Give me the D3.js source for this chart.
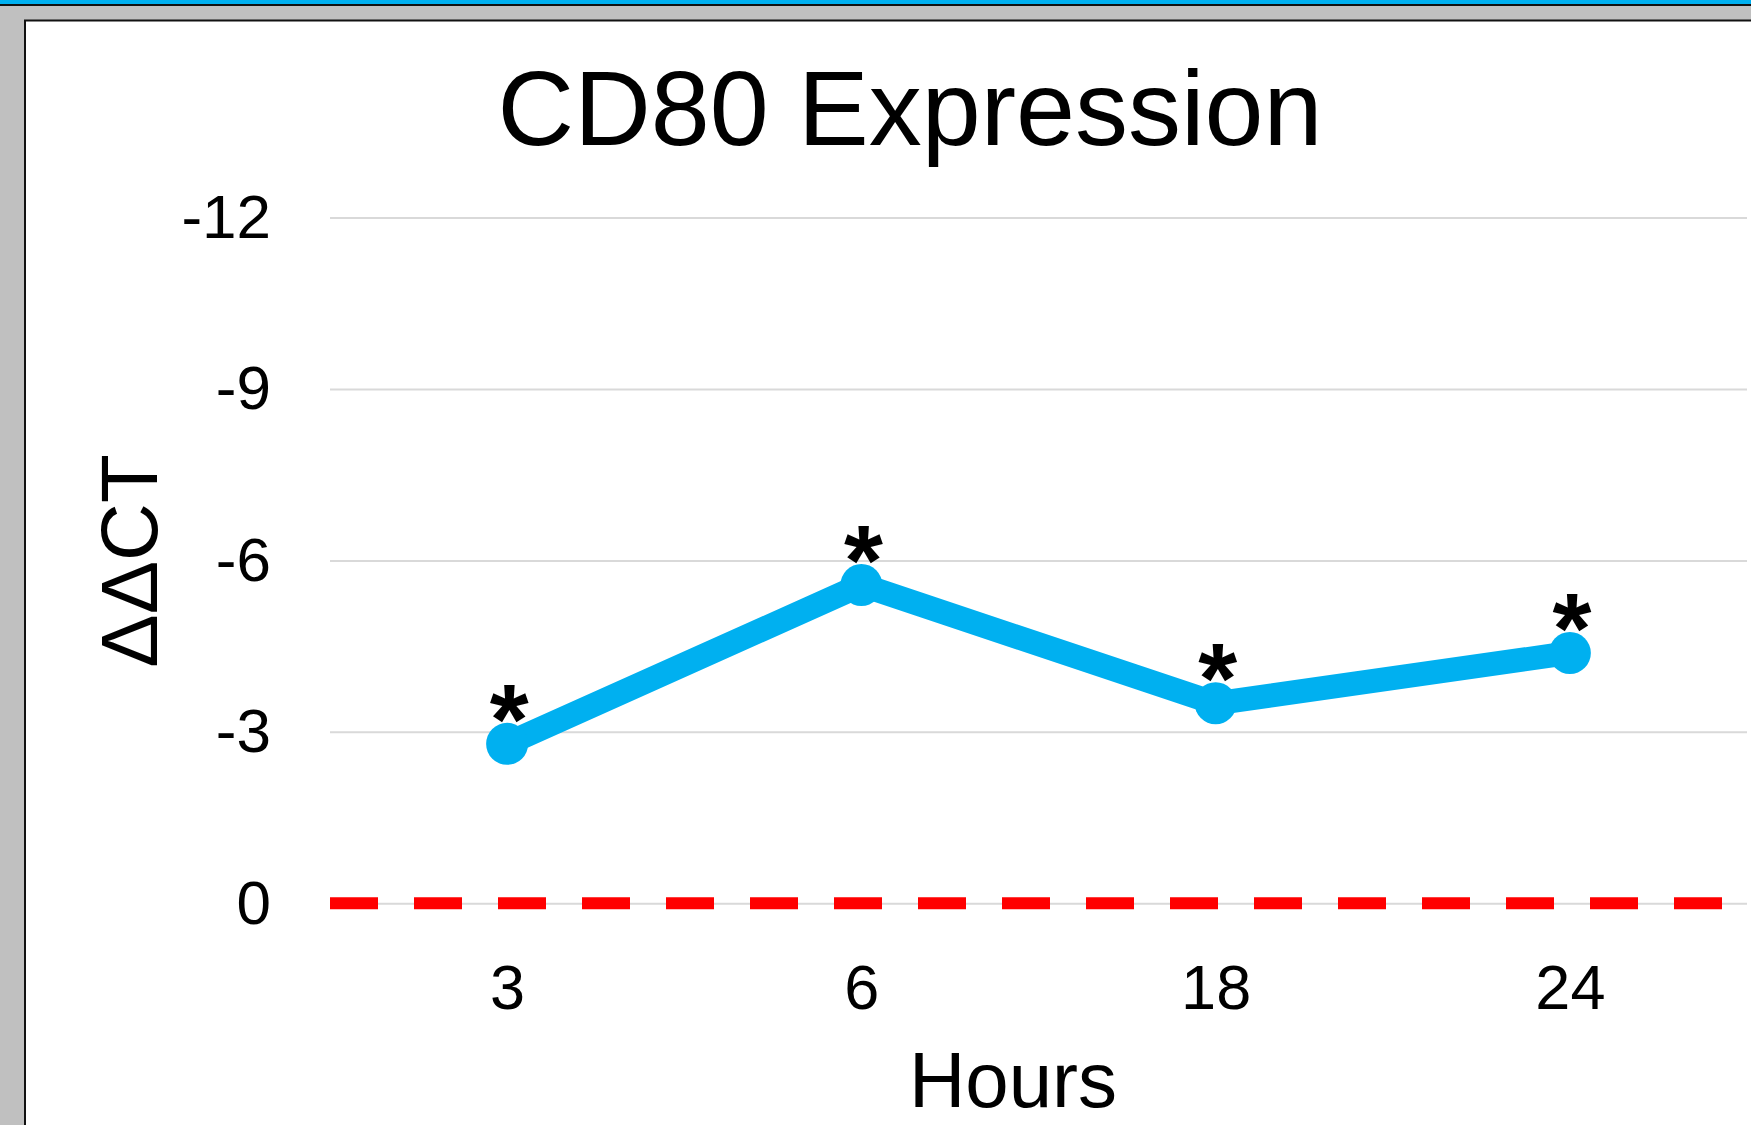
<!DOCTYPE html>
<html>
<head>
<meta charset="utf-8">
<script src="https://cdn.jsdelivr.net/npm/d3@7"></script>
<style>
  html, body { margin: 0; padding: 0; background: #c0c0c0; }
  svg { display: block; }
  text { font-family: "Liberation Sans", Arial, Helvetica, sans-serif; fill: #000; }
</style>
</head>
<body>
<svg id="chart" width="1751" height="1125"></svg>
<script>
// Time points (hours) and the measured ΔΔCT for CD80
const hours = ["3", "6", "18", "24"];
const ddct = [-2.79, -5.57, -3.50, -4.38];
const significance = ["*", "*", "*", "*"];
const yTicks = [0, -3, -6, -9, -12];
const yDomain = [0, -12];
const baselineValue = 0;

const chartTitle = "CD80 Expression";
const xTitle = "Hours";
const yTitle = "ΔΔCT";

const W = 1751, H = 1125;
const svg = d3.select("#chart");

// Window-like frame around the chart area
svg.append("rect").attr("width", W).attr("height", H).attr("fill", "#c0c0c0");
svg.append("rect").attr("x", 0).attr("y", 0).attr("width", W).attr("height", 4.5).attr("fill", "#00b0f0");
svg.append("line").attr("x1", 0).attr("x2", W).attr("y1", 5).attr("y2", 5)
  .attr("stroke", "#111").attr("stroke-width", 1.8);
svg.append("rect").attr("x", 25).attr("y", 21).attr("width", W - 25).attr("height", H - 21).attr("fill", "#fff");
svg.append("line").attr("x1", 24).attr("x2", W).attr("y1", 20.5).attr("y2", 20.5)
  .attr("stroke", "#111").attr("stroke-width", 2);
svg.append("line").attr("x1", 25).attr("x2", 25).attr("y1", 20).attr("y2", H)
  .attr("stroke", "#111").attr("stroke-width", 2);

// Plot area
const plot = { left: 330, right: 1747, top: 217.5, bottom: 903.3 };

const x = d3.scalePoint().domain(hours).range([plot.left, plot.right]).padding(0.5);
const y = d3.scaleLinear().domain(yDomain).range([plot.bottom, plot.top]);

// Y axis: gridlines + labels
const yAxis = svg.append("g")
  .attr("transform", `translate(${plot.left},0)`)
  .call(d3.axisLeft(y).tickValues(yTicks).tickSize(-(plot.right - plot.left)).tickPadding(59)
    .tickFormat(d3.format("d")));
yAxis.select(".domain").remove();
yAxis.selectAll(".tick line").attr("stroke", "#d9d9d9").attr("stroke-width", 2);
yAxis.selectAll(".tick text")
  .style("font-family", '"Liberation Sans", Arial, sans-serif')
  .attr("font-size", 62).attr("fill", "#000")
  .text(d => d === 0 ? "0" : "-" + Math.abs(d));

// X axis labels
const xAxis = svg.append("g")
  .attr("transform", `translate(0,${plot.bottom})`)
  .call(d3.axisBottom(x).tickSize(0).tickPadding(61));
xAxis.select(".domain").remove();
xAxis.selectAll(".tick text")
  .style("font-family", '"Liberation Sans", Arial, sans-serif')
  .attr("font-size", 63).attr("fill", "#000");

// Red dashed reference line at zero
svg.append("line")
  .attr("x1", plot.left).attr("x2", plot.right)
  .attr("y1", y(baselineValue)).attr("y2", y(baselineValue))
  .attr("stroke", "#ff0000").attr("stroke-width", 12)
  .attr("stroke-dasharray", "48,36");

// Data series
const series = hours.map((h, i) => ({ h, v: ddct[i], s: significance[i] }));

svg.append("path")
  .datum(series)
  .attr("fill", "none")
  .attr("stroke", "#00b0f0")
  .attr("stroke-width", 24)
  .attr("stroke-linejoin", "round")
  .attr("d", d3.line().x(d => x(d.h)).y(d => y(d.v)));

svg.selectAll("circle.pt")
  .data(series)
  .join("circle")
  .attr("class", "pt")
  .attr("cx", d => x(d.h))
  .attr("cy", d => y(d.v))
  .attr("r", 21)
  .attr("fill", "#00b0f0");

// Significance marks
svg.selectAll("text.sig")
  .data(series)
  .join("text")
  .attr("class", "sig")
  .attr("x", d => x(d.h) + 2)
  .attr("y", d => y(d.v) + 10)
  .attr("text-anchor", "middle")
  .attr("font-size", 100)
  .attr("font-weight", "bold")
  .text(d => d.s);

// Titles
svg.append("text")
  .attr("x", 910).attr("y", 145)
  .attr("text-anchor", "middle")
  .attr("font-size", 106)
  .text(chartTitle);

svg.append("text")
  .attr("x", 1013).attr("y", 1107)
  .attr("text-anchor", "middle")
  .attr("font-size", 78)
  .text(xTitle);

svg.append("text")
  .attr("transform", "translate(157,561) rotate(-90)")
  .attr("text-anchor", "middle")
  .attr("font-size", 80)
  .text(yTitle);
</script>
</body>
</html>
